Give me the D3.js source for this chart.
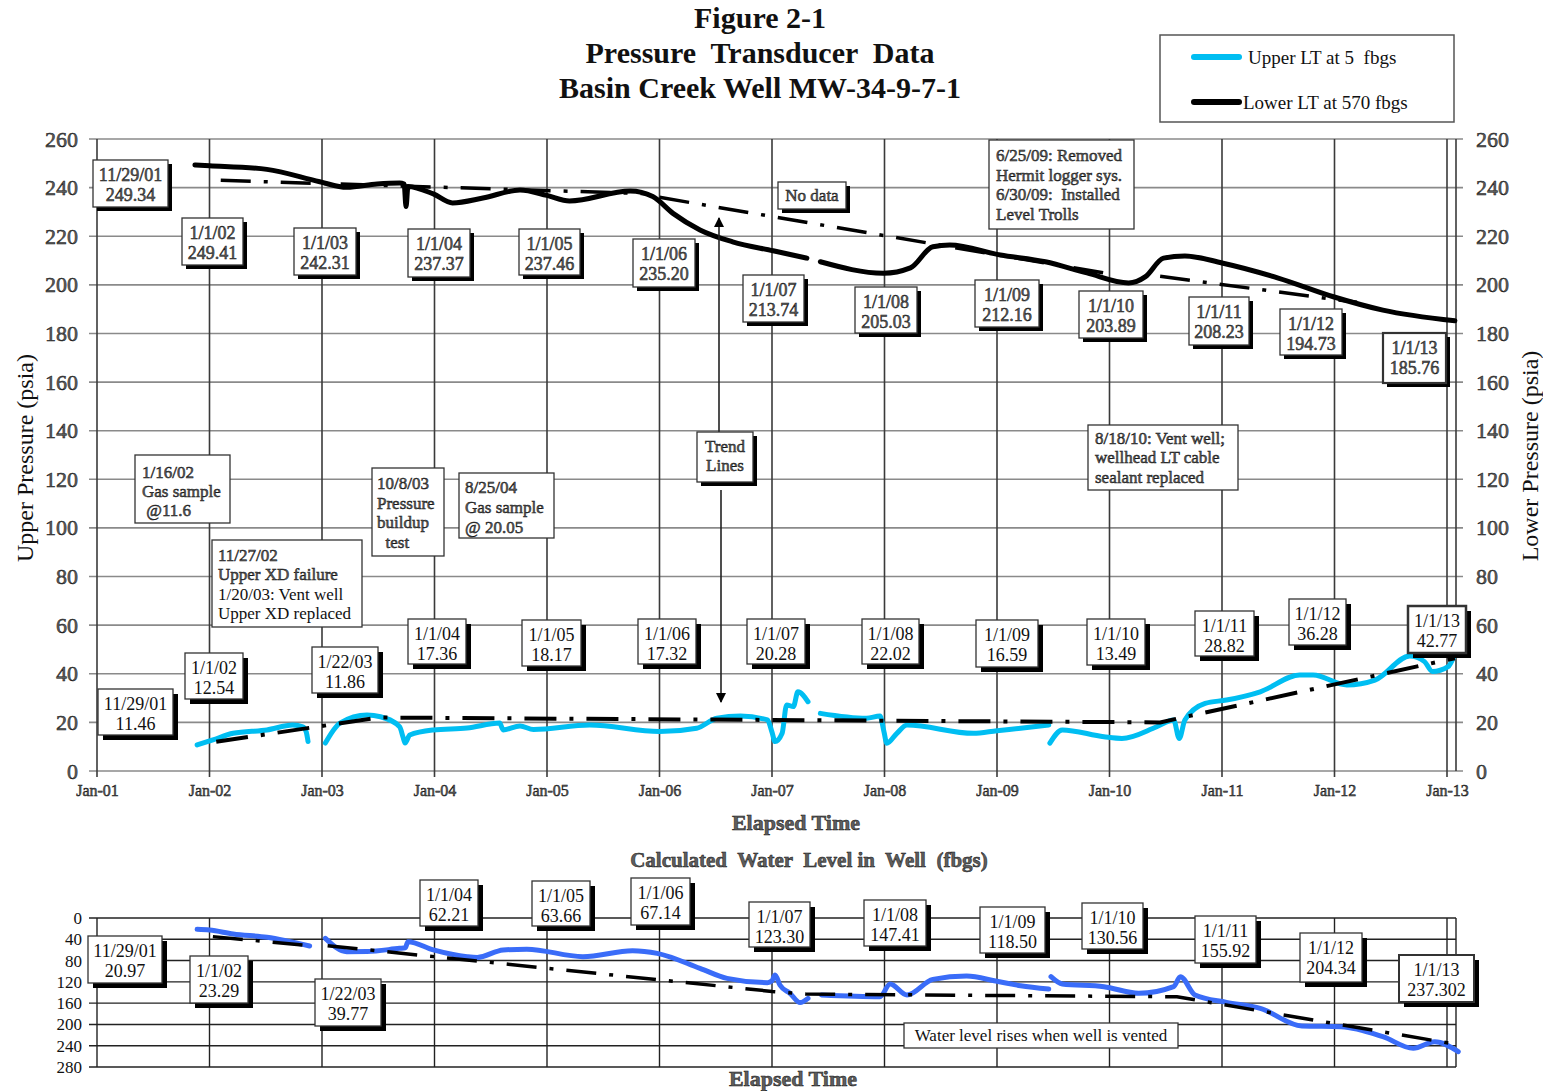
<!DOCTYPE html>
<html><head><meta charset="utf-8">
<script src="https://cdn.jsdelivr.net/npm/d3@7"></script>
<style>
body{margin:0;background:#fff}
text{font-family:"Liberation Serif","Times New Roman",serif}
.emb{fill:#5e5e5e;stroke:#141414;stroke-width:0.5px}
</style>
</head><body>
<svg id="c" width="1543" height="1091"></svg>
<script>
// ---------------- DATA ----------------
const yearTicks = [2001,2002,2003,2004,2005,2006,2007,2008,2009,2010,2011,2012,2013];
const yearTickLabels = ["Jan-01","Jan-02","Jan-03","Jan-04","Jan-05","Jan-06","Jan-07","Jan-08","Jan-09","Jan-10","Jan-11","Jan-12","Jan-13"];
const pressureTicks = [0,20,40,60,80,100,120,140,160,180,200,220,240,260];
const waterTicks = [0,40,80,120,160,200,240,280];

// Lower LT at 570 fbgs (psia) [decimal year, value]; null = no data
const lowerLT = [[2001.87,249.3],[2002.0,249.0],[2002.51,247.5],[2002.98,242.4],[2003.22,240.1],[2003.49,241.5],
 [2003.69,241.9],[2003.73,241.5],[2003.747,232.2],[2003.764,240.5],[2003.99,237.4],[2004.16,233.7],[2004.43,235.7],
 [2004.76,239.0],[2005.0,236.8],[2005.2,234.5],[2005.74,238.6],[2005.94,236.3],[2006.12,229.4],[2006.36,222.6],
 [2006.65,217.7],[2007.01,214.0],[2007.31,211.0],[2007.37,null],[2007.43,209.5],[2007.99,204.8],[2008.23,207.0],
 [2008.43,215.7],[2008.58,216.4],[2009.03,212.3],[2009.43,209.5],[2009.8,204.9],[2010.17,200.8],[2010.32,203.4],
 [2010.48,211.0],[2010.67,211.9],[2011.0,209.0],[2011.5,202.8],[2011.99,195.1],[2012.43,189.6],[2013.07,185.2]];

// Upper LT at 5 fbgs (psia)
const upperLT = [[2001.89,10.7],[2002.03,12.8],[2002.21,15.5],[2002.51,16.9],[2002.74,18.9],[2002.83,18.2],[2002.86,16.0],
 [2002.876,12.1],[2002.95,null],[2003.03,11.5],[2003.16,19.7],[2003.4,23.0],[2003.52,22.3],[2003.69,18.2],[2003.72,14.0],
 [2003.738,11.5],[2003.78,14.8],[2003.99,16.9],[2004.29,17.7],[2004.58,19.7],[2004.61,16.9],[2004.76,18.5],[2004.88,17.1],
 [2005.38,18.9],[2006.0,16.2],[2006.33,17.6],[2006.51,21.7],[2006.72,22.6],[2006.96,21.0],[2007.0,16.0],[2007.027,12.1],
 [2007.09,15.5],[2007.13,27.2],[2007.19,26.5],[2007.23,32.6],[2007.32,28.5],[2007.37,null],[2007.43,23.7],[2007.84,21.7],
 [2007.96,22.6],[2007.996,16.0],[2008.02,11.4],[2008.11,15.5],[2008.2,18.9],[2008.79,15.5],[2009.0,16.6],[2009.21,17.6],
 [2009.46,18.9],[2009.465,null],[2009.47,11.5],[2009.58,16.9],[2009.95,14.1],[2010.11,13.4],[2010.42,18.2],[2010.57,21.0],
 [2010.62,13.4],[2010.67,21.0],[2010.85,27.8],[2011.04,29.2],[2011.34,32.6],[2011.69,39.5],[2011.81,39.5],[2012.11,35.4],
 [2012.36,37.4],[2012.67,47.3],[2012.8,45.0],[2012.87,40.9],[2013.01,42.9],[2013.06,47.0]];

// Calculated water level (fbgs)
const waterLevel = [[2001.89,21.3],[2002.0,22.5],[2002.21,30.0],[2002.51,36.3],[2002.89,52.6],[2002.95,null],[2003.03,38.2],
 [2003.22,63.3],[2003.4,63.0],[2003.69,57.0],[2003.74,56.0],[2003.764,44.5],[2003.99,60.0],[2004.29,72.7],[2004.38,74.0],
 [2004.61,60.0],[2004.82,58.5],[2005.32,72.7],[2005.76,61.4],[2005.98,66.4],[2006.36,94.6],[2006.6,113.4],[2006.96,121.5],
 [2007.0,118.0],[2007.027,107.0],[2007.07,126.0],[2007.16,141.5],[2007.25,159.0],[2007.32,151.0],[2007.38,null],
 [2007.44,144.7],[2007.96,147.8],[2008.05,124.0],[2008.2,144.7],[2008.43,115.3],[2008.73,109.0],[2009.0,119.0],
 [2009.21,127.2],[2009.46,133.4],[2009.47,null],[2009.48,110.3],[2009.58,124.0],[2009.95,129.0],[2010.26,141.5],
 [2010.57,129.0],[2010.63,110.3],[2010.76,144.7],[2011.04,158.5],[2011.34,169.8],[2011.71,203.0],[2012.06,204.3],
 [2012.43,223.0],[2012.7,244.9],[2012.89,232.5],[2013.1,251.0]];

// Trend lines (segments)
const lowerTrend = [[[2002.1,243.0],[2005.9,237.5]],[[2006.0,236.0],[2010.0,204.5]],[[2010.45,203.5],[2012.2,192.8]]];
const upperTrend = [[[2002.06,12.0],[2003.5,22.0],[2010.45,20.0],[2013.07,46.4]]];
const waterTrend = [[[2002.03,35.0],[2002.9,52.0]],[[2003.05,52.0],[2007.0,138.0],[2007.3,143.0],[2010.6,148.0],[2013.07,237.0]]];

// Point labels
const lowerLabelDates = ["11/29/01","1/1/02","1/1/03","1/1/04","1/1/05","1/1/06","1/1/07","1/1/08","1/1/09","1/1/10","1/1/11","1/1/12","1/1/13"];
const lowerLabelValues = ["249.34","249.41","242.31","237.37","237.46","235.20","213.74","205.03","212.16","203.89","208.23","194.73","185.76"];
const upperLabelDates = ["11/29/01","1/1/02","1/22/03","1/1/04","1/1/05","1/1/06","1/1/07","1/1/08","1/1/09","1/1/10","1/1/11","1/1/12","1/1/13"];
const upperLabelValues = ["11.46","12.54","11.86","17.36","18.17","17.32","20.28","22.02","16.59","13.49","28.82","36.28","42.77"];
const waterLabelDates = upperLabelDates;
const waterLabelValues = ["20.97","23.29","39.77","62.21","63.66","67.14","123.30","147.41","118.50","130.56","155.92","204.34","237.302"];

// Notes
const noteGas1 = ["1/16/02","Gas sample"," @11.6"];
const noteXD = ["11/27/02","Upper XD failure","1/20/03: Vent well","Upper XD replaced"];
const noteBuild = ["10/8/03","Pressure","buildup","  test"];
const noteGas2 = ["8/25/04","Gas sample","@ 20.05"];
const noteTrend = ["Trend","Lines"];
const noteNoData = ["No data"];
const noteTroll = ["6/25/09: Removed","Hermit logger sys.","6/30/09:  Installed","Level Trolls"];
const noteVent = ["8/18/10: Vent well;","wellhead LT cable","sealant replaced"];
const noteWater = ["Water level rises when well is vented"];

const titleLines = ["Figure 2-1","Pressure  Transducer  Data","Basin Creek Well MW-34-9-7-1"];
const legendLabels = ["Upper LT at 5  fbgs","Lower LT at 570 fbgs"];

// ---------------- LAYOUT ----------------
const lowerBoxes = [[93,160,168,207],[182,218,243,265],[294,228,356,275],[408,229,470,277],[519,229,580,275],[633,239,695,287],
 [743,275,804,322],[855,287,917,333],[975,280,1039,327],[1079,291,1143,338],[1189,297,1249,345],[1280,309,1342,355],[1383,333,1446,383]];
const upperBoxes = [[98,689,173,735],[185,653,243,699],[312,647,378,693],[408,619,466,664],[522,620,581,666],[638,619,696,664],
 [747,619,805,664],[862,619,919,664],[976,620,1038,667],[1087,619,1145,665],[1195,611,1254,656],[1289,599,1346,645],[1408,606,1466,653]];
const waterBoxes = [[88,936,162,983],[190,956,248,1003],[315,979,381,1026],[420,880,478,926],[532,881,590,926],[631,878,690,925],
 [749,902,810,947],[864,900,926,946],[980,907,1045,953],[1082,903,1143,949],[1195,916,1256,963],[1300,933,1362,982],[1399,955,1474,1002]];

const svg = d3.select("#c");
const xEnd = 2013.08;
const x = d3.scaleLinear().domain([2001, 2013]).range([97, 1447]);
const yT = d3.scaleLinear().domain([0, 260]).range([771, 139]);
const yB = d3.scaleLinear().domain([0, 280]).range([918, 1067]);
const CYAN = "#00bef2", BLUE = "#3a6cf8";

// ---------------- TITLE ----------------
svg.append("g").selectAll("text").data(titleLines).join("text")
  .attr("x", 760).attr("y", (d,i)=>28+i*35).attr("text-anchor","middle")
  .style("font-size","30px").style("font-weight","bold").attr("fill","#111")
  .attr("xml:space","preserve").text(d=>d);

// ---------------- TOP CHART GRID ----------------
const gTop = svg.append("g");
gTop.append("g").selectAll("line").data(pressureTicks).join("line")
  .attr("x1", 89).attr("x2", x(xEnd)+7).attr("y1", d=>yT(d)).attr("y2", d=>yT(d))
  .attr("stroke","#8a8a8a").attr("stroke-width",1.6);
gTop.append("g").selectAll("line").data(yearTicks).join("line")
  .attr("x1", d=>x(d)).attr("x2", d=>x(d)).attr("y1", yT(260)).attr("y2", yT(0)+6)
  .attr("stroke","#3a3a3a").attr("stroke-width",1.6);
gTop.append("line").attr("x1",x(xEnd)).attr("x2",x(xEnd)).attr("y1",yT(260)).attr("y2",yT(0))
  .attr("stroke","#3a3a3a").attr("stroke-width",1.6);

const axL = gTop.append("g").attr("transform",`translate(${x(2001)},0)`)
  .call(d3.axisLeft(yT).tickValues(pressureTicks).tickSize(8).tickPadding(11));
const axR = gTop.append("g").attr("transform",`translate(${x(xEnd)},0)`)
  .call(d3.axisRight(yT).tickValues(pressureTicks).tickSize(7).tickPadding(13));
[axL,axR].forEach(a=>{a.select(".domain").remove();a.selectAll("line").remove();
  a.selectAll("text").attr("class","emb").style("font-size","22px").attr("font-family",null);});
const axB = gTop.append("g").attr("transform",`translate(0,${yT(0)})`)
  .call(d3.axisBottom(x).tickValues(yearTicks).tickFormat((d,i)=>yearTickLabels[i]).tickSize(6).tickPadding(8));
axB.select(".domain").remove(); axB.selectAll("line").remove();
axB.selectAll("text").attr("class","emb").style("font-size","16px").attr("font-family",null);

svg.append("text").attr("transform","translate(25,458) rotate(-90)").attr("text-anchor","middle")
  .attr("dy","0.35em").style("font-size","24px").attr("fill","#111").text("Upper Pressure (psia)");
svg.append("text").attr("transform","translate(1530,456) rotate(-90)").attr("text-anchor","middle")
  .attr("dy","0.35em").style("font-size","24px").attr("fill","#111").text("Lower Pressure (psia)");
svg.append("text").attr("x",796).attr("y",830).attr("text-anchor","middle").attr("class","emb")
  .style("font-size","22px").style("font-weight","bold").text("Elapsed Time");

// ---------------- TOP CHART LINES ----------------
const lineT = d3.line().defined(d=>d[1]!=null).x(d=>x(d[0])).y(d=>yT(d[1])).curve(d3.curveMonotoneX);
const lineTL = d3.line().x(d=>x(d[0])).y(d=>yT(d[1]));
gTop.append("path").datum(lowerLT).attr("d",lineT).attr("fill","none").attr("stroke","#000")
  .attr("stroke-width",5).attr("stroke-linejoin","round").attr("stroke-linecap","round");
gTop.append("path").datum(upperLT).attr("d",lineT).attr("fill","none").attr("stroke",CYAN)
  .attr("stroke-width",5).attr("stroke-linejoin","round").attr("stroke-linecap","round");
gTop.append("g").selectAll("path").data(lowerTrend).join("path").attr("d",lineTL)
  .attr("fill","none").attr("stroke","#000").attr("stroke-width",3.5).attr("stroke-dasharray","30,13,4,13");
gTop.append("g").selectAll("path").data(upperTrend).join("path").attr("d",lineTL)
  .attr("fill","none").attr("stroke","#000").attr("stroke-width",4).attr("stroke-dasharray","32,13,4,13");

// ---------------- BOTTOM CHART ----------------
const gBot = svg.append("g");
gBot.append("text").attr("x",809).attr("y",867).attr("text-anchor","middle").attr("class","emb")
  .style("font-size","21px").style("font-weight","bold").attr("xml:space","preserve")
  .text("Calculated  Water  Level in  Well  (fbgs)");
gBot.append("g").selectAll("line").data(waterTicks).join("line")
  .attr("x1", 89).attr("x2", x(xEnd)).attr("y1", d=>yB(d)).attr("y2", d=>yB(d))
  .attr("stroke","#222").attr("stroke-width",1.4);
gBot.append("g").selectAll("line").data(yearTicks).join("line")
  .attr("x1", d=>x(d)).attr("x2", d=>x(d)).attr("y1", yB(0)).attr("y2", yB(280))
  .attr("stroke","#222").attr("stroke-width",1.4);
gBot.append("line").attr("x1",x(xEnd)).attr("x2",x(xEnd)).attr("y1",yB(0)).attr("y2",yB(280))
  .attr("stroke","#222").attr("stroke-width",1.4);
const axBL = gBot.append("g").attr("transform",`translate(${x(2001)},0)`)
  .call(d3.axisLeft(yB).tickValues(waterTicks).tickSize(8).tickPadding(7));
axBL.select(".domain").remove(); axBL.selectAll("line").remove();
axBL.selectAll("text").style("font-size","17px").attr("fill","#111").attr("font-family",null);
gBot.append("text").attr("x",793).attr("y",1086).attr("text-anchor","middle").attr("class","emb")
  .style("font-size","22px").style("font-weight","bold").text("Elapsed Time");

const lineB = d3.line().defined(d=>d[1]!=null).x(d=>x(d[0])).y(d=>yB(d[1])).curve(d3.curveMonotoneX);
const lineBL = d3.line().x(d=>x(d[0])).y(d=>yB(d[1]));
gBot.append("path").datum(waterLevel).attr("d",lineB).attr("fill","none").attr("stroke",BLUE)
  .attr("stroke-width",5).attr("stroke-linejoin","round").attr("stroke-linecap","round");
gBot.append("g").selectAll("path").data(waterTrend).join("path").attr("d",lineBL)
  .attr("fill","none").attr("stroke","#000").attr("stroke-width",3.5).attr("stroke-dasharray","30,13,4,13");

// ---------------- ARROWS ----------------
const defs = svg.append("defs");
defs.append("marker").attr("id","ah").attr("viewBox","0 0 10 10").attr("refX",9).attr("refY",5)
  .attr("markerWidth",10).attr("markerHeight",10).attr("markerUnits","userSpaceOnUse").attr("orient","auto")
  .append("path").attr("d","M0,0L10,5L0,10Z").attr("fill","#000");
svg.append("line").attr("x1",719).attr("y1",432).attr("x2",719).attr("y2",218)
  .attr("stroke","#222").attr("stroke-width",1.6).attr("marker-end","url(#ah)");
svg.append("line").attr("x1",721).attr("y1",490).attr("x2",721).attr("y2",702)
  .attr("stroke","#222").attr("stroke-width",1.6).attr("marker-end","url(#ah)");

// ---------------- BOXES ----------------
function box(r, lines, opt){
  const [x0,y0,x1,y1] = r, w=x1-x0, h=y1-y0;
  const g = svg.append("g");
  if(opt.shadow) g.append("rect").attr("x",x0+opt.shadow).attr("y",y0+opt.shadow).attr("width",w).attr("height",h).attr("fill","#000");
  g.append("rect").attr("x",x0).attr("y",y0).attr("width",w).attr("height",h)
    .attr("fill","#fff").attr("stroke","#333").attr("stroke-width",opt.border||1.3);
  const fs = opt.fs||18, sp = opt.sp||20, first = opt.first||14.5;
  g.selectAll("text").data(lines).join("text")
    .attr("x", opt.left ? x0+opt.left : x0+w/2)
    .attr("y", (d,i)=>y0+first+i*sp).attr("dy","0.35em")
    .attr("text-anchor", opt.left ? "start" : "middle")
    .attr("xml:space","preserve")
    .attr("class",(d,i)=> (opt.emb===true || (Array.isArray(opt.emb)&&opt.emb[i])) ? "emb" : null)
    .attr("fill","#111").style("font-size",fs+"px").text(d=>d);
}
lowerBoxes.forEach((r,i)=>box(r,[lowerLabelDates[i],lowerLabelValues[i]],{shadow:4,emb:true,border:i===12?2.2:1.3}));
upperBoxes.forEach((r,i)=>box(r,[upperLabelDates[i],upperLabelValues[i]],{shadow:5,border:i===12?2.5:1.3}));
waterBoxes.forEach((r,i)=>box(r,[waterLabelDates[i],waterLabelValues[i]],{shadow:5,border:i===12?2:1.3}));

box([135,455,230,523], noteGas1, {left:7, emb:true, fs:17, sp:19, first:17});
box([212,540,362,627], noteXD, {left:6, emb:[true,true,false,false], fs:17, sp:19.5, first:15});
box([372,468,444,556], noteBuild, {left:5, emb:true, fs:17, sp:19.7, first:15});
box([459,473,554,538], noteGas2, {left:6, emb:true, fs:17, sp:20, first:14});
box([697,432,753,482], noteTrend, {shadow:4, emb:true, fs:17, sp:19, first:14});
box([778,182,846,209], noteNoData, {shadow:4, emb:true, fs:17, first:13.5});
box([989,140,1134,229], noteTroll, {left:7, emb:true, fs:17, sp:19.7, first:15});
box([1088,425,1238,490], noteVent, {left:7, emb:true, fs:17, sp:19.5, first:13});
box([904,1023,1178,1048], noteWater, {fs:17, first:12.5});

// ---------------- LEGEND ----------------
const lg = svg.append("g");
lg.append("rect").attr("x",1160).attr("y",35).attr("width",294).attr("height",87)
  .attr("fill","#fff").attr("stroke","#555").attr("stroke-width",1.5);
const legColors = [CYAN,"#000"];
lg.selectAll("line").data(legColors).join("line").attr("x1",1194).attr("x2",1239)
  .attr("y1",(d,i)=>57+i*45).attr("y2",(d,i)=>57+i*45).attr("stroke",d=>d)
  .attr("stroke-width",6).attr("stroke-linecap","round");
lg.selectAll("text").data(legendLabels).join("text").attr("x",(d,i)=>i?1243:1248)
  .attr("y",(d,i)=>57+i*45).attr("dy","0.35em").attr("xml:space","preserve")
  .style("font-size","19px").attr("fill","#111").text(d=>d);
</script>
</body></html>
